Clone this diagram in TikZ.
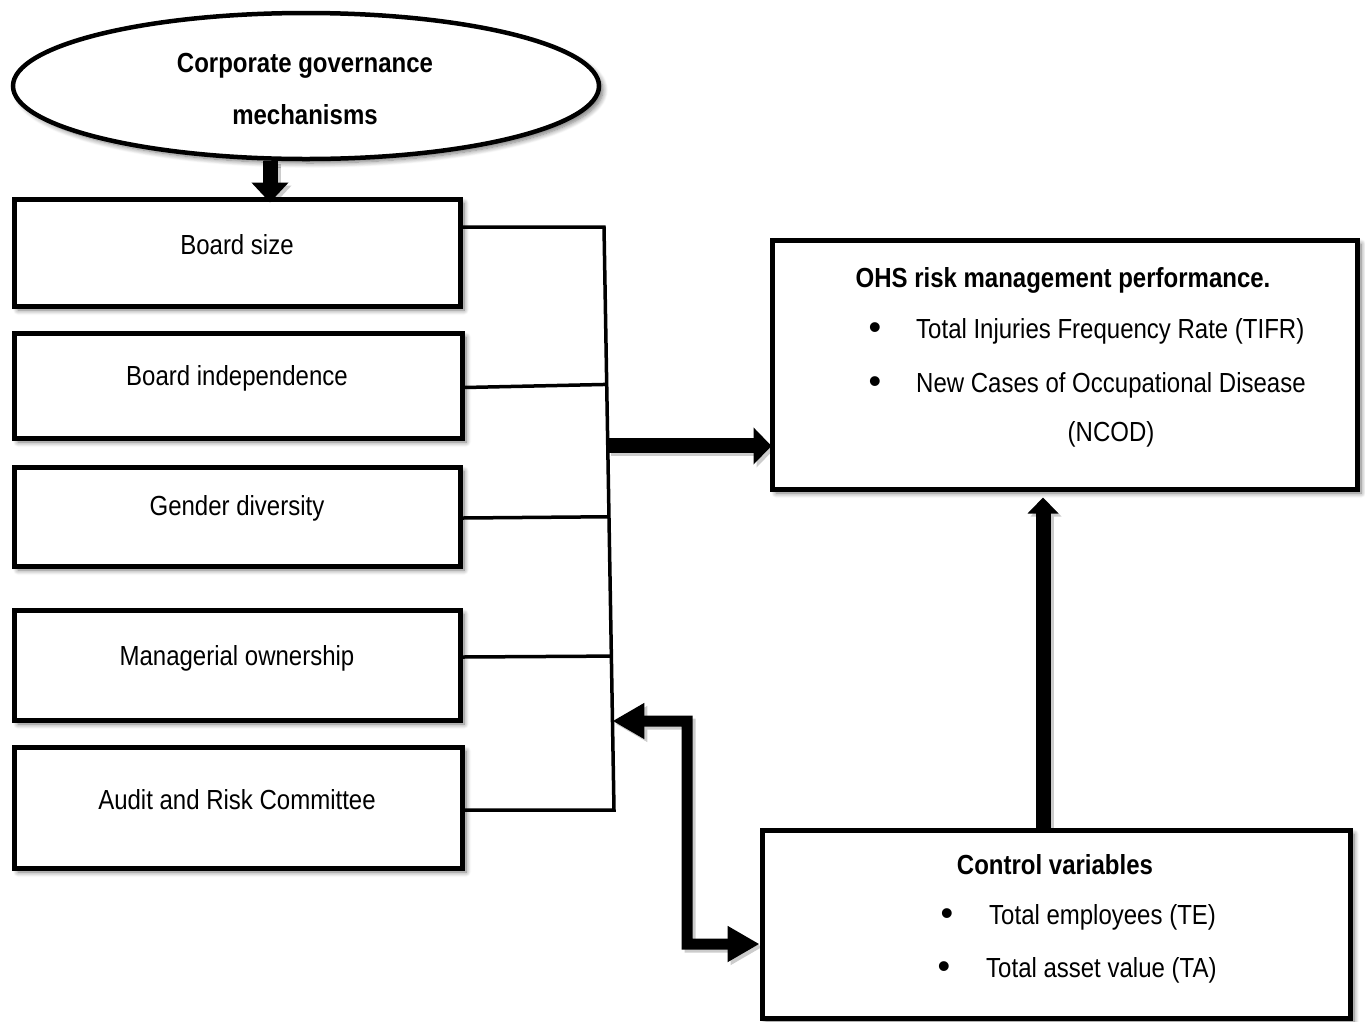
\documentclass[tikz,border=0pt]{standalone}
\usepackage{fontspec}
\setmainfont{Liberation Sans}
\usepackage{graphicx}
\usetikzlibrary{arrows.meta,shapes.geometric,shadows.blur,calc}
\pgfdeclarelayer{background}
\pgfsetlayers{background,main}

% text is set slightly taller than the font's natural proportions
\newcommand{\txtsize}{\fontsize{24}{28}\selectfont}
\newcommand{\tallx}[1]{\scalebox{1}[1.15]{#1}}

\begin{document}
\begin{tikzpicture}[x=1pt,y=-1pt,
  softshadow/.style={blur shadow={shadow xshift=4pt,shadow yshift=-4pt,
      shadow blur radius=5pt,shadow blur steps=8,shadow opacity=55}},
  box/.style={draw,rectangle,line width=5pt,fill=white,inner sep=0pt,softshadow},
  txt/.style={font=\txtsize,inner sep=0pt},
  btxt/.style={font=\txtsize\bfseries,inner sep=0pt},
  bul/.style={font=\fontsize{36}{36}\selectfont,inner sep=0pt},
  link/.style={line width=3.5pt,line join=miter},
  downarrow/.style={line width=15pt,-{Triangle[length=20pt,width=36pt]}},
  bigarrow/.style={line width=15pt,-{Triangle[length=18pt,width=36pt]}},
  uparrow/.style={line width=15pt,-{Triangle[length=16pt,width=30pt]}},
  elbow/.style={line width=11pt,line join=miter,
      {Triangle[length=32pt,width=34pt]}-{Triangle[length=32pt,width=34pt]}},
  ashadow/.style={black!20,transform canvas={shift={(3pt,-3pt)}}}
]
\useasboundingbox (0,0) rectangle (1365,1021);

% top ellipse
\node[ellipse,draw,line width=4.5pt,fill=white,minimum width=586,minimum height=146,
      inner sep=0pt,softshadow] (cg) at (306,86) {};
\node[btxt] (cg1) at (305,66) {\tallx{Corporate governance}};
\node[btxt] (cg2) at (305,115) {\tallx{mechanisms}};

% governance mechanisms
\node[box,minimum width=446,minimum height=107] (b1) at (237,252.5) {};
\node[txt] (b1t) at (237,245) {\tallx{Board size}};
\node[box,minimum width=448,minimum height=105] (b2) at (238,385.5) {};
\node[txt] (b2t) at (237,378) {\tallx{Board independence}};
\node[box,minimum width=446,minimum height=99] (b3) at (237,516.5) {};
\node[txt] (b3t) at (237,508) {\tallx{Gender diversity}};
\node[box,minimum width=446,minimum height=110] (b4) at (237,665) {};
\node[txt] (b4t) at (237,658) {\tallx{Managerial ownership}};
\node[box,minimum width=448,minimum height=121] (b5) at (238,807.5) {};
\node[txt] (b5t) at (237,800) {\tallx{Audit and Risk Committee}};

% outcome box
\node[box,minimum width=585,minimum height=249] (ohs) at (1064.5,364.5) {};
\node[btxt] (ohst) at (1063,280) {\tallx{OHS risk management performance.}};
\node[bul] (ob1) at (875,331) {•};
\node[txt,anchor=west] (oi1) at (916,331) {\tallx{Total Injuries Frequency Rate (TIFR)}};
\node[bul] (ob2) at (875,385) {•};
\node[txt,anchor=west] (oi2) at (916,385) {\tallx{New Cases of Occupational Disease}};
\node[txt] (oi3) at (1111,434) {\tallx{(NCOD)}};

% control variables box
\node[box,minimum width=588,minimum height=188] (ctrl) at (1056,924) {};
\node[btxt] (ctrlt) at (1055,865) {\tallx{Control variables}};
\node[bul] (cb1) at (947,917) {•};
\node[txt,anchor=west] (ci1) at (989,917) {\tallx{Total employees (TE)}};
\node[bul] (cb2) at (944,970) {•};
\node[txt,anchor=west] (ci2) at (986,970) {\tallx{Total asset value (TA)}};

% bracket collecting the mechanisms (slightly leaning spine)
\coordinate (bt) at (604,227);
\coordinate (bb) at (614,810);
\coordinate (s2) at ($(bt)!0.270!(bb)$);
\coordinate (s3) at ($(bt)!0.497!(bb)$);
\coordinate (s4) at ($(bt)!0.736!(bb)$);
\draw[link] (b1.east |- bt) -- (bt) -- (bb) -- (b5.east |- bb);
\draw[link] ([yshift=-2pt]b2.east) -- (s2);
\draw[link] ([yshift=-1.5pt]b3.east) -- (s3);
\draw[link] ([yshift=8pt]b4.east) -- (s4);

% arrow helpers
\coordinate (dx) at (270,0);
\coordinate (ux) at (1043,0);
\coordinate (jm) at ($(bt)!0.3756!(bb)$);
\coordinate (ej) at ($(bt)!0.8473!(bb)$);
\coordinate (ec1) at (687,721);
\coordinate (ec2) at (687,944);

% arrow shadows
\begin{pgfonlayer}{background}
\draw[downarrow,ashadow] (cg.south -| dx) -- ([yshift=-6pt]b1.north -| dx);
\draw[bigarrow,ashadow] (jm) -- ([xshift=2pt]jm -| ohs.west);
\draw[uparrow,ashadow] (ctrl.north -| ux) -- ([yshift=-6pt]ohs.south -| ux);
\draw[elbow,ashadow] (ej) -- (ec1) -- (ec2) -- (ctrl.west |- ec2);
\end{pgfonlayer}

% arrows
\draw[downarrow] (cg.south -| dx) -- ([yshift=-6pt]b1.north -| dx);
\draw[bigarrow] (jm) -- ([xshift=2pt]jm -| ohs.west);
\draw[uparrow] (ctrl.north -| ux) -- ([yshift=-6pt]ohs.south -| ux);
\draw[elbow] (ej) -- (ec1) -- (ec2) -- (ctrl.west |- ec2);
\end{tikzpicture}
\end{document}
